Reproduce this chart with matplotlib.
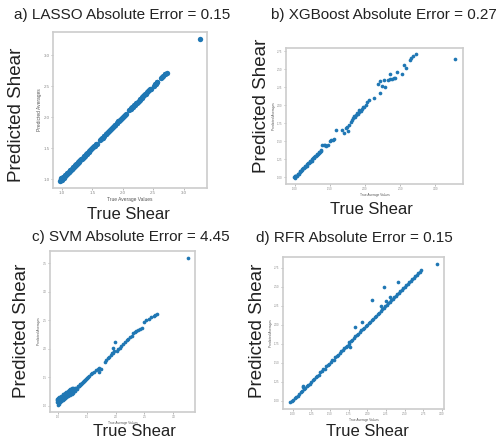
import matplotlib
matplotlib.use("Agg")
import matplotlib.pyplot as plt

# ---------------- data ----------------
titles = ["a) LASSO Absolute Error = 0.15", "b) XGBoost Absolute Error = 0.27",
          "c) SVM Absolute Error = 4.45", "d) RFR Absolute Error = 0.15"]

true_a = [0.97, 0.98, 0.99, 0.99, 1.00, 1.00, 1.01, 1.02, 1.02, 1.03, 1.04, 1.05, 1.06, 1.07, 1.08, 1.09,
          1.10, 1.11, 1.12, 1.13, 1.14, 1.15, 1.16, 1.17, 1.18, 1.19, 1.20, 1.21, 1.22, 1.23, 1.24, 1.25,
          1.26, 1.27, 1.28, 1.29, 1.30, 1.32, 1.33, 1.34, 1.36, 1.37, 1.38, 1.40, 1.41, 1.42, 1.44, 1.45,
          1.47, 1.48, 1.50, 1.51, 1.53, 1.54, 1.56, 1.57, 1.63, 1.64, 1.66, 1.67, 1.69, 1.70, 1.72, 1.73,
          1.75, 1.76, 1.78, 1.79, 1.81, 1.82, 1.84, 1.85, 1.87, 1.88, 1.90, 1.91, 1.93, 1.94, 1.96, 1.97,
          1.99, 2.00, 2.02, 2.04, 2.05, 2.11, 2.13, 2.14, 2.16, 2.17, 2.19, 2.20, 2.22, 2.23, 2.25, 2.26,
          2.28, 2.29, 2.31, 2.32, 2.34, 2.35, 2.37, 2.38, 2.40, 2.42, 2.43, 2.45, 2.46, 2.51, 2.53, 2.54,
          2.56, 2.57, 2.63, 2.65, 2.67, 2.69, 2.70, 2.72, 3.27]
pred_a = [0.97, 1.00, 0.98, 1.01, 0.99, 1.02, 1.00, 1.01, 1.03, 1.02, 1.04, 1.05, 1.06, 1.07, 1.08, 1.09,
          1.10, 1.11, 1.12, 1.13, 1.14, 1.15, 1.16, 1.17, 1.18, 1.19, 1.20, 1.21, 1.22, 1.23, 1.24, 1.25,
          1.26, 1.27, 1.28, 1.29, 1.30, 1.32, 1.33, 1.34, 1.36, 1.37, 1.38, 1.40, 1.41, 1.42, 1.44, 1.45,
          1.47, 1.48, 1.50, 1.51, 1.53, 1.54, 1.56, 1.57, 1.63, 1.64, 1.66, 1.67, 1.69, 1.70, 1.72, 1.73,
          1.75, 1.76, 1.78, 1.79, 1.81, 1.82, 1.84, 1.85, 1.87, 1.88, 1.90, 1.91, 1.93, 1.94, 1.96, 1.97,
          1.99, 2.00, 2.02, 2.04, 2.05, 2.11, 2.13, 2.14, 2.16, 2.17, 2.19, 2.20, 2.22, 2.23, 2.25, 2.26,
          2.28, 2.29, 2.31, 2.32, 2.34, 2.35, 2.37, 2.38, 2.40, 2.42, 2.43, 2.45, 2.46, 2.51, 2.53, 2.54,
          2.56, 2.57, 2.63, 2.65, 2.67, 2.69, 2.70, 2.72, 3.26]

true_b = [0.99, 1.00, 1.00, 1.01, 1.02, 1.03, 1.04, 1.05, 1.06, 1.07, 1.08, 1.09, 1.10, 1.11, 1.12, 1.13,
          1.14, 1.15, 1.16, 1.17, 1.18, 1.19, 1.20, 1.21, 1.22, 1.23, 1.24, 1.25, 1.26, 1.27, 1.28, 1.29,
          1.30, 1.31, 1.32, 1.33, 1.34, 1.35, 1.36, 1.37, 1.38,
          1.39, 1.41, 1.43, 1.45, 1.47, 1.50, 1.52, 1.54, 1.56, 1.58, 1.67, 1.70, 1.73, 1.76, 1.74, 1.77, 1.80,
          1.81, 1.83, 1.84, 1.86, 1.87, 1.88, 1.90, 1.91, 1.92, 1.94, 1.95, 1.97, 1.98,
          2.01, 2.03, 2.05, 2.13, 2.21, 2.18, 2.21, 2.24, 2.27, 2.29, 2.33, 2.36, 2.39, 2.41, 2.43,
          2.36, 2.46, 2.53, 2.56, 2.58, 2.64, 2.66, 2.69, 2.72, 3.28]
pred_b = [1.00, 0.99, 1.02, 1.01, 1.01, 1.02, 1.04, 1.05, 1.05, 1.07, 1.08, 1.08, 1.10, 1.11, 1.12, 1.12,
          1.14, 1.15, 1.16, 1.16, 1.18, 1.19, 1.19, 1.21, 1.22, 1.23, 1.23, 1.25, 1.26, 1.26, 1.28, 1.29,
          1.29, 1.31, 1.32, 1.32, 1.34, 1.35, 1.35, 1.37, 1.38,
          1.44, 1.44, 1.44, 1.43, 1.44, 1.50, 1.52, 1.51, 1.53, 1.65, 1.66, 1.62, 1.69, 1.64, 1.70, 1.73, 1.77,
          1.80, 1.82, 1.85, 1.84, 1.87, 1.89, 1.88, 1.91, 1.93, 1.92, 1.95, 1.97, 1.98,
          2.00, 2.04, 2.07, 2.10, 2.17, 2.30, 2.34, 2.27, 2.35, 2.26, 2.35, 2.37, 2.36, 2.38, 2.38,
          2.43, 2.46, 2.43, 2.56, 2.52, 2.63, 2.65, 2.68, 2.71, 2.64]

true_c = [0.98, 0.99, 1.00, 1.01, 1.02, 1.03, 1.04, 1.05, 1.06, 1.07, 1.08, 1.09, 1.10, 1.11, 1.12, 1.13,
          1.14, 1.15, 1.16, 1.17, 1.18, 1.19, 1.20, 1.21, 1.22, 1.23, 1.24, 1.25, 1.26, 1.27, 1.28, 1.29,
          1.30, 1.31, 1.32, 1.33, 1.34, 1.35, 1.37, 1.38, 1.40, 1.42, 1.44, 1.46, 1.48, 1.50, 1.52, 1.54,
          1.57, 1.60, 1.63, 1.66, 1.69, 1.72, 1.72, 1.75, 1.81, 1.84, 1.87, 1.89, 1.92, 1.94, 1.96, 1.98,
          1.95, 1.99, 2.02, 2.05, 2.08, 2.10, 2.13, 2.16, 2.19, 2.22, 2.25, 2.28, 2.30, 2.33, 2.36, 2.39,
          2.42, 2.45, 2.50, 2.53, 2.58, 2.61, 2.66, 2.69, 2.72, 3.26,
          1.00, 1.02, 1.04, 1.06, 1.08, 1.10, 1.12, 1.14, 1.16, 1.18, 1.20, 1.22, 1.24, 1.26, 1.28, 1.30,
          0.99, 1.01, 1.03, 1.05, 1.07, 1.09, 1.11, 1.13, 1.15, 1.17, 1.19, 1.21, 1.23, 1.25, 1.27,
          1.36, 1.39, 1.41, 1.43, 1.45, 1.47, 1.49, 1.51]
pred_c = [1.07, 1.10, 1.05, 1.09, 1.12, 1.07, 1.10, 1.13, 1.09, 1.12, 1.15, 1.11, 1.14, 1.17, 1.13, 1.16,
          1.19, 1.15, 1.18, 1.21, 1.17, 1.20, 1.23, 1.19, 1.22, 1.25, 1.21, 1.24, 1.27, 1.23, 1.26, 1.29,
          1.26, 1.29, 1.31, 1.29, 1.32, 1.34, 1.34, 1.37, 1.38, 1.40, 1.42, 1.44, 1.46, 1.48, 1.50, 1.52,
          1.55, 1.57, 1.60, 1.63, 1.65, 1.67, 1.60, 1.65, 1.77, 1.80, 1.84, 1.85, 1.89, 1.92, 1.93, 1.97,
          2.02, 2.12, 1.97, 2.00, 2.02, 2.05, 2.08, 2.12, 2.16, 2.17, 2.21, 2.23, 2.27, 2.29, 2.31, 2.33,
          2.35, 2.36, 2.48, 2.50, 2.52, 2.56, 2.58, 2.60, 2.62, 3.59,
          1.02, 1.04, 1.06, 1.08, 1.10, 1.12, 1.14, 1.16, 1.18, 1.20, 1.22, 1.24, 1.26, 1.28, 1.30, 1.32,
          1.12, 1.14, 1.15, 1.17, 1.18, 1.20, 1.21, 1.23, 1.24, 1.26, 1.27, 1.29, 1.30, 1.31, 1.32,
          1.35, 1.38, 1.39, 1.41, 1.43, 1.45, 1.47, 1.49]

true_d = [0.97, 0.99, 1.01, 1.03, 1.05, 1.07, 1.09, 1.11, 1.13, 1.14, 1.15, 1.17, 1.19, 1.21, 1.23, 1.25,
          1.27, 1.29, 1.31, 1.33, 1.35, 1.37, 1.39, 1.41, 1.43, 1.45, 1.47, 1.49, 1.51, 1.53, 1.55, 1.57,
          1.59, 1.61, 1.63, 1.65, 1.67, 1.69, 1.71, 1.73, 1.75, 1.76, 1.78, 1.80, 1.82, 1.84, 1.86, 1.88,
          1.90, 1.92, 1.94, 1.96, 1.98, 2.00, 2.02, 2.04, 2.06, 2.08, 2.10, 2.12, 2.14, 2.16, 2.18, 2.20,
          2.22, 2.24, 2.26, 2.28, 2.30, 2.32, 2.34, 2.36, 2.38, 2.40, 2.42, 2.44, 2.46, 2.48, 2.50, 2.52,
          2.54, 2.56, 2.58, 2.60, 2.62, 2.64, 2.66, 2.68, 2.70, 2.72,
          2.22, 2.06, 2.41, 1.83, 1.93, 1.77, 1.14, 2.18, 2.25, 2.30, 2.93]
pred_d = [0.98, 0.99, 1.01, 1.03, 1.05, 1.06, 1.09, 1.11, 1.12, 1.18, 1.15, 1.17, 1.19, 1.21, 1.22, 1.25,
          1.27, 1.28, 1.31, 1.33, 1.34, 1.37, 1.39, 1.41, 1.42, 1.45, 1.47, 1.48, 1.51, 1.53, 1.54, 1.57,
          1.59, 1.60, 1.63, 1.65, 1.66, 1.69, 1.71, 1.72, 1.75, 1.77, 1.78, 1.80, 1.83, 1.85, 1.86, 1.88,
          1.90, 1.93, 1.94, 1.96, 1.98, 2.00, 2.02, 2.04, 2.06, 2.08, 2.10, 2.11, 2.14, 2.16, 2.18, 2.20,
          2.22, 2.24, 2.26, 2.28, 2.30, 2.32, 2.34, 2.36, 2.38, 2.40, 2.42, 2.44, 2.46, 2.48, 2.50, 2.52,
          2.54, 2.56, 2.58, 2.60, 2.62, 2.64, 2.66, 2.68, 2.70, 2.72,
          2.49, 2.33, 2.56, 1.97, 2.03, 1.70, 1.19, 2.24, 2.31, 2.36, 2.80]

xticks_a = [1.0, 1.5, 2.0, 2.5, 3.0]
yticks_a = [1.0, 1.5, 2.0, 2.5, 3.0]
xticks_b = [1.0, 1.5, 2.0, 2.5, 3.0]
yticks_b = [1.00, 1.25, 1.50, 1.75, 2.00, 2.25, 2.50, 2.75]
xticks_c = [1.0, 1.5, 2.0, 2.5, 3.0]
yticks_c = [1.0, 1.5, 2.0, 2.5, 3.0, 3.5]
xticks_d = [1.00, 1.25, 1.50, 1.75, 2.00, 2.25, 2.50, 2.75, 3.00]
yticks_d = [1.00, 1.25, 1.50, 1.75, 2.00, 2.25, 2.50, 2.75]

# ---------------- figure ----------------
plt.rcParams['font.family'] = ['Liberation Sans', 'DejaVu Sans']
W, H = 499, 441
fig = plt.figure(figsize=(W / 100, H / 100), dpi=100)
fig.patch.set_facecolor('white')

def fx(px):
    return px / W

def fy(py):
    return 1 - py / H

color = '#1f77b4'
panels = [
    dict(box=(53, 32, 207, 188), x=true_a, y=pred_a, xt=xticks_a, yt=yticks_a, fmt='{:.1f}', s=15, tfs=3.2,
         title=(122, 15), ylab=(17, 115), xlab=(128, 215)),
    dict(box=(286, 48, 463, 184), x=true_b, y=pred_b, xt=xticks_b, yt=yticks_b, fmt='{:.2f}', s=7, tfs=2.0,
         title=(384, 15), ylab=(261, 106), xlab=(371, 210)),
    dict(box=(50, 251, 195, 412), x=true_c, y=pred_c, xt=xticks_c, yt=yticks_c, fmt='{:.1f}', s=7, tfs=2.0,
         title=(131, 237), ylab=(22, 331), xlab=(134, 432)),
    dict(box=(283, 257, 444, 409), x=true_d, y=pred_d, xt=xticks_d, yt=yticks_d, fmt='{:.2f}', s=7, tfs=2.0,
         title=(354, 238), ylab=(258, 331), xlab=(367, 432)),
]

for p, title in zip(panels, titles):
    x0, y0, x1, y1 = p['box']
    ax = fig.add_axes([fx(x0), fy(y1), fx(x1 - x0), (y1 - y0) / H])
    ax.scatter(p['x'], p['y'], s=p['s'], color=color, linewidths=0)
    ax.set_xticks(p['xt'])
    ax.set_yticks(p['yt'])
    ax.set_xticklabels([p['fmt'].format(v) for v in p['xt']], fontsize=p['tfs'], color='#555555')
    ax.set_yticklabels([p['fmt'].format(v) for v in p['yt']], fontsize=p['tfs'], color='#555555')
    ax.tick_params(length=1.2, width=0.4, pad=1.2, colors='#888888')
    for sp in ax.spines.values():
        sp.set_color('#cccccc')
        sp.set_linewidth(1.2)
    ax.set_xlabel('True Average Values', fontsize=p['tfs'] + 0.3, labelpad=1, color='#555555')
    ax.set_ylabel('Predicted Averages', fontsize=p['tfs'] + 0.3, labelpad=1, color='#555555')

    tx, ty = p['title']
    fig.text(fx(tx), fy(ty), title, ha='center', va='center', fontsize=11, color='#222222')
    lx, ly = p['ylab']
    fig.text(fx(lx), fy(ly), 'Predicted Shear', ha='center', va='center', rotation=90,
             fontsize=13.5, color='#222222')
    bx, by = p['xlab']
    fig.text(fx(bx), fy(by), 'True Shear', ha='center', va='center', fontsize=12, color='#222222')

fig.savefig('out.png', dpi=100, facecolor='white')
